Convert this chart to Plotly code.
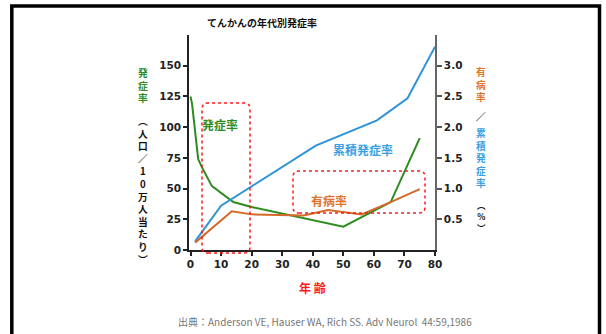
import plotly.graph_objects as go

# ---- data ----
age_inc = [0, 0.5, 2.5, 4, 7, 14, 20, 50, 65.5, 75]
incidence = [125, 119, 74, 66, 52, 39, 35, 19, 39, 91]          # per 100k (left axis)

age_prev = [1.5, 13.5, 20, 37, 45, 56, 65.5, 75]
prevalence = [0.12, 0.63, 0.58, 0.56, 0.65, 0.58, 0.78, 0.99]   # % (right axis)

age_cum = [1.5, 10, 41, 61, 71, 80]
cumulative = [0.14, 0.72, 1.70, 2.11, 2.47, 3.31]               # % (right axis)

x_ticks = [0, 10, 20, 30, 40, 50, 60, 70, 80]
left_ticks = [0, 25, 50, 75, 100, 125, 150]
right_ticks = [0.5, 1.0, 1.5, 2.0, 2.5, 3.0]
right_tick_text = ["0.5", "1.0", "1.5", "2.0", "2.5", "3.0"]

GREEN = "#2e8b1f"
BLUE = "#2f93d8"
ORANGE = "#d4692a"
RED = "#ff1a1a"
FONT = "Noto Sans CJK JP"

W, H = 606, 334
L, R, T, B = 189, 171, 35, 84
PW, PH = W - L - R, H - T - B


def px(x):
    return (x - L) / PW


def py(y):
    return (H - B - y) / PH


fig = go.Figure()
fig.add_trace(go.Scatter(x=age_inc, y=incidence, mode="lines",
                         line=dict(color=GREEN, width=2), yaxis="y", showlegend=False))
fig.add_trace(go.Scatter(x=age_cum, y=cumulative, mode="lines",
                         line=dict(color=BLUE, width=2), yaxis="y2", showlegend=False))
fig.add_trace(go.Scatter(x=age_prev, y=prevalence, mode="lines",
                         line=dict(color=ORANGE, width=2), yaxis="y2", showlegend=False))

tickfont = dict(family="DejaVu Sans", size=10.5, color="#222", weight="bold")

fig.update_layout(
    width=W, height=H,
    margin=dict(l=L, r=R, t=T, b=B, pad=0),
    paper_bgcolor="white", plot_bgcolor="white",
    xaxis=dict(range=[-0.5, 80], tickvals=x_ticks, showgrid=False, zeroline=False,
               showline=True, linecolor="#222", linewidth=1.5,
               ticks="outside", ticklen=4, tickcolor="#222", tickwidth=1.5,
               tickfont=tickfont),
    yaxis=dict(range=[0, 175], tickvals=left_ticks, showgrid=False, zeroline=False,
               showline=True, linecolor="#222", linewidth=1.5,
               ticks="outside", ticklen=4, tickcolor="#222", tickwidth=1.5,
               tickfont=tickfont),
    yaxis2=dict(range=[0, 3.5], tickvals=right_ticks, ticktext=right_tick_text,
                overlaying="y", side="right", showgrid=False, zeroline=False,
                showline=True, linecolor="#666", linewidth=1.5,
                ticks="outside", ticklen=5, tickcolor="#555", tickwidth=1.5,
                tickfont=tickfont),
)

shapes = []


def rounded_rect(x0p, y0p, x1p, y1p, r=6):
    # pixel box -> paper path with rounded corners
    a, b = px(x0p), px(x1p)
    top, bot = py(y0p), py(y1p)
    rx, ry = r / PW, r / PH
    path = (f"M {a+rx},{bot} L {b-rx},{bot} Q {b},{bot} {b},{bot+ry} "
            f"L {b},{top-ry} Q {b},{top} {b-rx},{top} L {a+rx},{top} "
            f"Q {a},{top} {a},{top-ry} L {a},{bot+ry} Q {a},{bot} {a+rx},{bot} Z")
    return dict(type="path", path=path, xref="paper", yref="paper",
                line=dict(color=RED, width=1.5, dash="dot"))


shapes.append(rounded_rect(202, 103, 250, 253))
shapes.append(rounded_rect(293, 171, 425, 213))

# outer frame (left, top, right)
frame = (f"M {px(11.8)},{py(345)} L {px(11.8)},{py(6)} "
         f"L {px(599.5)},{py(6)} L {px(599.5)},{py(345)}")
shapes.append(dict(type="path", path=frame, xref="paper", yref="paper",
                   line=dict(color="black", width=3.5)))
fig.update_layout(shapes=shapes)

ann = []


def text(x, y, s, color, size, bold=True, xanchor="center"):
    ann.append(dict(x=px(x), y=py(y), xref="paper", yref="paper", text=s,
                    showarrow=False, xanchor=xanchor, yanchor="middle",
                    font=dict(family=FONT, size=size, color=color,
                              weight="bold" if bold else "normal")))


text(262, 22, "てんかんの年代別発症率", "#111", 10)
text(220, 125, "発症率", GREEN, 12)
text(363, 149, "累積発症率", "#3aa0e2", 12)
text(329, 200, "有病率", "#e07428", 12)
text(312, 287, "年 齢", RED, 12)
text(325, 321, "出典：Anderson VE, Hauser WA, Rich SS. Adv Neurol  44:59,1986", "#777", 10, bold=False)


def vertical(x, yc, chars, color, size):
    # stacked characters as one multi-line text, centred at yc
    text(x, yc, "<br>".join(chars), color, size)


# left axis title
vertical(142.5, 85.5, "発症率", GREEN, 9.8)
vertical(143, 190, ["︵", "人", "口", "／", "1", "0", "万", "人", "当", "た", "り", "︶"], "#111", 9.7)

# right axis title
vertical(481, 84.5, "有病率", "#e07428", 9.7)
vertical(481, 117, "／", "#111", 9.7)
vertical(481, 158, "累積発症率", "#3aa0e2", 9.7)
vertical(481, 216, ["︵", "%", "︶"], "#111", 8.5)

fig.update_layout(annotations=ann)

fig.write_html("out.html", config={"displayModeBar": False},
               post_script="document.body.style.margin='0';")
